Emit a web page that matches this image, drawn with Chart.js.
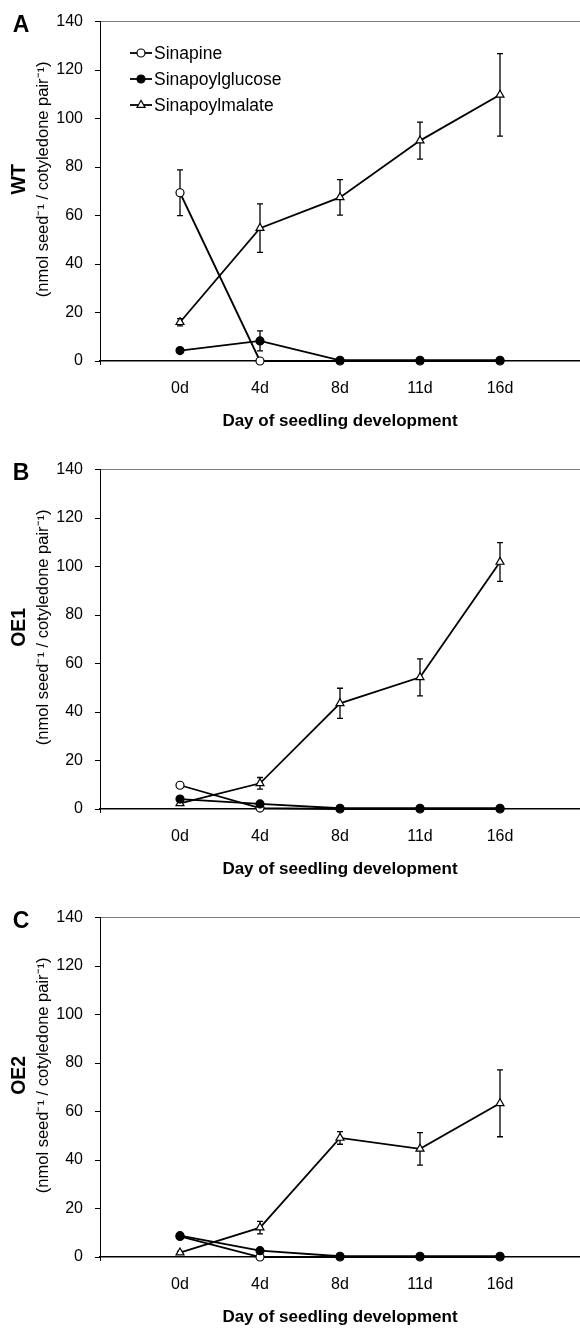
<!DOCTYPE html>
<html><head><meta charset="utf-8">
<script src="https://cdn.jsdelivr.net/npm/chart.js@4.4.1/dist/chart.umd.min.js"></script>
<style>
html,body{margin:0;padding:0;background:#fff;width:580px;height:1328px;overflow:hidden;}
.panel{position:absolute;left:0;width:580px;height:448px;}
</style></head><body>
<div class="panel" style="top:0"><canvas id="cA" width="580" height="448"></canvas></div>
<div class="panel" style="top:448px"><canvas id="cB" width="580" height="448"></canvas></div>
<div class="panel" style="top:896px"><canvas id="cC" width="580" height="448"></canvas></div>
<script>
const FONT = '"Liberation Sans", Arial, sans-serif';
const dayLabels = ['0d', '4d', '8d', '11d', '16d'];
const seriesNames = ['Sinapine', 'Sinapoylglucose', 'Sinapoylmalate'];
const panelLetters = ['A', 'B', 'C'];
const genotypes = ['WT', 'OE1', 'OE2'];
const yUnitLabel = '(nmol seed\u207B\u00B9 / cotyledone pair\u207B\u00B9)';
const xTitle = 'Day of seedling development';

// WT
const wtSinapine = [69.4, 0, 0, 0, 0];
const wtSinapineErr = [9.4, 0, 0, 0, 0];
const wtGlucose = [4.3, 8.3, 0.3, 0.3, 0.3];
const wtGlucoseErr = [0, 4.1, 0, 0, 0];
const wtMalate = [16.0, 54.8, 67.5, 90.9, 109.8];
const wtMalateErr = [1.5, 10.0, 7.3, 7.6, 17.0];
// OE1
const oe1Sinapine = [9.8, 0.4, 0, 0, 0];
const oe1SinapineErr = [0, 0, 0, 0, 0];
const oe1Glucose = [4.1, 2.1, 0.3, 0.3, 0.3];
const oe1GlucoseErr = [0, 0, 0, 0, 0];
const oe1Malate = [2.3, 10.6, 43.6, 54.3, 101.9];
const oe1MalateErr = [0.8, 2.4, 6.2, 7.6, 8.0];
// OE2
const oe2Sinapine = [8.5, 0, 0, 0, 0];
const oe2SinapineErr = [0, 0, 0, 0, 0];
const oe2Glucose = [8.8, 2.6, 0.3, 0.3, 0.3];
const oe2GlucoseErr = [0, 0, 0, 0, 0];
const oe2Malate = [1.8, 12.1, 49.1, 44.6, 63.4];
const oe2MalateErr = [0.5, 2.6, 2.6, 6.7, 13.8];

function pts(arr) { return arr.map((v, i) => ({ x: i, y: v })); }

function drawMarker(ctx, style, x, y, r, fill) {
  ctx.beginPath();
  if (style === 'triangle') {
    ctx.moveTo(x, y - r);
    ctx.lineTo(x + r * Math.sin(Math.PI * 2 / 3), y - r * Math.cos(Math.PI * 2 / 3));
    ctx.lineTo(x - r * Math.sin(Math.PI * 2 / 3), y - r * Math.cos(Math.PI * 2 / 3));
    ctx.closePath();
  } else {
    ctx.arc(x, y, r, 0, Math.PI * 2);
  }
  ctx.fillStyle = fill; ctx.fill();
  ctx.lineWidth = 1.2; ctx.strokeStyle = '#000'; ctx.stroke();
}

const errorBarPlugin = {
  id: 'errorBars',
  beforeDatasetsDraw(chart) {
    const ctx = chart.ctx, xs = chart.scales.x, ys = chart.scales.y;
    ctx.save();
    ctx.strokeStyle = '#000'; ctx.lineWidth = 1.3;
    chart.data.datasets.forEach(ds => {
      (ds.errors || []).forEach((e, i) => {
        if (!e) return;
        const v = ds.data[i].y;
        const px = xs.getPixelForValue(i);
        const y1 = ys.getPixelForValue(v + e), y2 = ys.getPixelForValue(Math.max(0, v - e));
        ctx.beginPath();
        ctx.moveTo(px, y1); ctx.lineTo(px, y2);
        ctx.moveTo(px - 3, y1); ctx.lineTo(px + 3, y1);
        ctx.moveTo(px - 3, y2); ctx.lineTo(px + 3, y2);
        ctx.stroke();
      });
    });
    ctx.restore();
  }
};

const panelTextPlugin = {
  id: 'panelText',
  afterDraw(chart, args, opts) {
    const ctx = chart.ctx, ca = chart.chartArea;
    ctx.save();
    ctx.fillStyle = '#000';
    ctx.textAlign = 'center'; ctx.textBaseline = 'middle';
    ctx.font = 'bold 23px ' + FONT;
    ctx.fillText(opts.letter, 21, 26);
    const cy = (ca.top + ca.bottom) / 2 - 12;
    ctx.save();
    ctx.translate(20, cy); ctx.rotate(-Math.PI / 2);
    ctx.font = 'bold 19.5px ' + FONT;
    ctx.fillText(opts.genotype, 0, 0);
    ctx.restore();
    ctx.save();
    ctx.translate(43, cy); ctx.rotate(-Math.PI / 2);
    ctx.font = '16.5px ' + FONT;
    ctx.fillText(yUnitLabel, 0, 0);
    ctx.restore();
    if (opts.legend) {
      chart.data.datasets.forEach((ds, i) => {
        const y = 53 + 26 * i;
        ctx.strokeStyle = '#000'; ctx.lineWidth = 1.8;
        ctx.beginPath(); ctx.moveTo(130, y); ctx.lineTo(152, y); ctx.stroke();
        drawMarker(ctx, ds.pointStyle, 141, y, ds.pointRadius, ds.pointBackgroundColor);
        ctx.fillStyle = '#000';
        ctx.textAlign = 'left';
        ctx.font = '17.5px ' + FONT;
        ctx.fillText(ds.label, 154, y + 1);
      });
    }
    ctx.restore();
  }
};

function makePanel(id, idx, sin, sinE, glu, gluE, mal, malE) {
  const common = { borderColor: '#000', borderWidth: 1.8, pointBorderColor: '#000', pointBorderWidth: 1.2, pointHoverRadius: 4, clip: false, fill: false, tension: 0 };
  new Chart(document.getElementById(id), {
    type: 'line',
    data: {
      datasets: [
        Object.assign({}, common, { label: seriesNames[0], data: pts(sin), errors: sinE, pointStyle: 'circle', pointRadius: 4, pointBackgroundColor: '#fff', order: 2 }),
        Object.assign({}, common, { label: seriesNames[1], data: pts(glu), errors: gluE, pointStyle: 'circle', pointRadius: 4, pointBackgroundColor: '#000', order: 0 }),
        Object.assign({}, common, { label: seriesNames[2], data: pts(mal), errors: malE, pointStyle: 'triangle', pointRadius: 4.6, pointBackgroundColor: '#fff', order: 1 })
      ]
    },
    options: {
      responsive: false, animation: false, devicePixelRatio: 1,
      layout: { autoPadding: false, padding: { top: 21, left: 0, right: 0, bottom: 0 } },
      plugins: {
        legend: { display: false }, tooltip: { enabled: false },
        panelText: { letter: panelLetters[idx], genotype: genotypes[idx], legend: idx === 0 }
      },
      scales: {
        x: {
          type: 'linear', min: -1, max: 5,
          ticks: { stepSize: 1, autoSkip: false, maxRotation: 0, color: '#000', padding: 14,
            font: { family: FONT, size: 16 },
            callback: v => dayLabels[v] !== undefined ? dayLabels[v] : '' },
          grid: { drawOnChartArea: false, drawTicks: true, tickLength: 4,
            tickColor: c => (c.tick && c.tick.value === -1) ? '#000' : 'rgba(0,0,0,0)' },
          border: { display: true, color: '#000', width: 1.5 },
          title: { display: true, text: xTitle, color: '#000', font: { family: FONT, size: 17, weight: 'bold' }, padding: { top: 0, bottom: 16 } },
          afterFit: s => { s.height = 87; s.paddingLeft = 0; s.paddingRight = 0; }
        },
        y: {
          min: 0, max: 140,
          ticks: { stepSize: 20, color: '#000', padding: 12, font: { family: FONT, size: 16 } },
          grid: { color: c => (c.tick && c.tick.value === 140) ? '#808080' : 'rgba(0,0,0,0)', tickColor: '#000', tickLength: 5, drawTicks: true, lineWidth: 1 },
          border: { display: true, color: '#000', width: 1 },
          afterFit: s => { s.width = 100; }
        }
      }
    },
    plugins: [errorBarPlugin, panelTextPlugin]
  });
}

makePanel('cA', 0, wtSinapine, wtSinapineErr, wtGlucose, wtGlucoseErr, wtMalate, wtMalateErr);
makePanel('cB', 1, oe1Sinapine, oe1SinapineErr, oe1Glucose, oe1GlucoseErr, oe1Malate, oe1MalateErr);
makePanel('cC', 2, oe2Sinapine, oe2SinapineErr, oe2Glucose, oe2GlucoseErr, oe2Malate, oe2MalateErr);
</script>
</body></html>
